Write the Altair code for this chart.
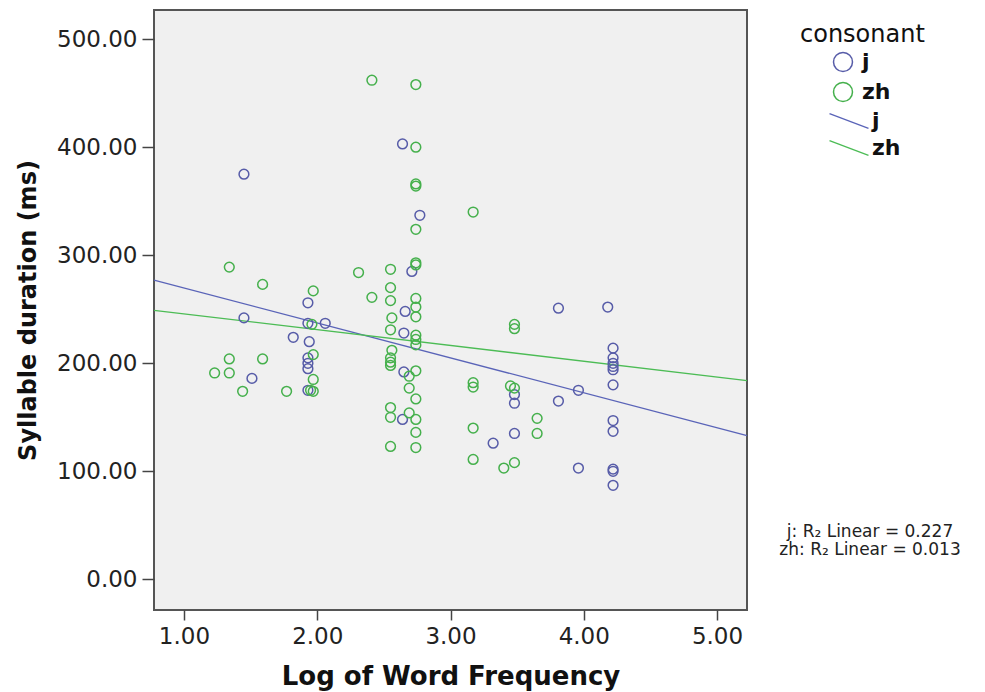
import altair as alt
import pandas as pd

# ---- data ----
j_x = [1.45, 1.45, 1.51, 1.82, 1.93, 1.93, 1.94, 1.93, 1.93, 1.93, 1.93, 2.06,
       2.64, 2.77, 2.71, 2.66, 2.65, 2.65, 2.64, 3.32, 3.48, 3.48, 3.48, 3.81,
       3.81, 3.96, 3.96, 4.18, 4.22, 4.22, 4.22, 4.22, 4.22, 4.22, 4.22, 4.22,
       4.22, 4.22, 4.22]
j_y = [375, 242, 186, 224, 256, 237, 220, 205, 200, 195, 175, 237,
       403, 337, 285, 248, 228, 192, 148, 126, 171, 163, 135, 251,
       165, 175, 103, 252, 214, 205, 200, 197, 194, 180, 147, 137,
       102, 100, 87]

zh_x = [1.23, 1.34, 1.34, 1.34, 1.44, 1.59, 1.59, 1.77, 1.97, 1.96, 1.97, 1.97,
        1.97, 1.95, 2.31, 2.41, 2.41, 2.55, 2.55, 2.55, 2.56, 2.55, 2.56, 2.55,
        2.55, 2.55, 2.55, 2.55, 2.55, 2.69, 2.69, 2.69, 2.74, 2.74, 2.74, 2.74,
        2.74, 2.74, 2.74, 2.74, 2.74, 2.74, 2.74, 2.74, 2.74, 2.74, 2.74, 2.74,
        2.74, 2.74, 3.17, 3.17, 3.17, 3.17, 3.17, 3.45, 3.48, 3.48, 3.48, 3.40,
        3.48, 3.65, 3.65]
zh_y = [191, 289, 204, 191, 174, 273, 204, 174, 267, 236, 208, 185,
        174, 175, 284, 462, 261, 287, 270, 258, 242, 231, 212, 205,
        201, 198, 159, 150, 123, 188, 177, 154, 458, 400, 366, 364,
        324, 293, 291, 260, 252, 243, 226, 222, 217, 193, 167, 148,
        136, 122, 340, 182, 178, 140, 111, 179, 177, 236, 232, 103,
        108, 149, 135]

fit_x = [0.775, 5.225]
j_fit = [277, 133]
zh_fit = [249, 184]

groups = ["j", "zh"]
line_groups = ["j line", "zh line"]
point_colors = ["#575ca8", "#45b04c"]
line_colors = ["#5a64b8", "#4cbc55"]
x_ticks = [1, 2, 3, 4, 5]
y_ticks = [0, 100, 200, 300, 400, 500]
r2_text = ["j: R₂ Linear = 0.227", "zh: R₂ Linear = 0.013"]

FONT = "DejaVu Sans"

pts = pd.DataFrame({
    "x": j_x + zh_x,
    "y": j_y + zh_y,
    "consonant": ["j"] * len(j_x) + ["zh"] * len(zh_x),
})
fit = pd.DataFrame({
    "x": fit_x + fit_x,
    "y": j_fit + zh_fit,
    "line": [line_groups[0]] * 2 + [line_groups[1]] * 2,
})

xscale = alt.Scale(domain=[0.775, 5.225], nice=False, zero=False)
yscale = alt.Scale(domain=[-28.4, 527], nice=False, zero=False)

xaxis = alt.Axis(values=x_ticks, format=".2f", title="Log of Word Frequency",
                 grid=False, domain=False, tickSize=10, tickColor="#444",
                 tickWidth=1.5, labelFontSize=23, labelColor="#222",
                 labelPadding=5, labelFont=FONT, titleFont=FONT,
                 titleFontSize=26, titleFontWeight="bold", titleColor="#111",
                 titlePadding=15)
yaxis = alt.Axis(values=y_ticks, format=".2f", title="Syllable duration (ms)",
                 grid=False, domain=False, tickSize=12, tickColor="#444",
                 tickWidth=1.5, labelFontSize=23, labelColor="#222",
                 labelPadding=5, labelFont=FONT, titleFont=FONT,
                 titleFontSize=24, titleFontWeight="bold", titleColor="#111",
                 titlePadding=16)

points = alt.Chart(pts).mark_point(
    shape="circle", filled=False, size=95, strokeWidth=1.5, opacity=1
).encode(
    x=alt.X("x:Q", scale=xscale, axis=xaxis),
    y=alt.Y("y:Q", scale=yscale, axis=yaxis),
    color=alt.Color(
        "consonant:N",
        scale=alt.Scale(domain=groups, range=point_colors),
        legend=alt.Legend(title=None, orient="none", legendX=678, legendY=41,
                          symbolType="circle", symbolSize=360,
                          symbolStrokeWidth=1.5, labelFontSize=22,
                          labelFont=FONT, labelFontWeight="bold",
                          labelColor="#111", labelOffset=8, rowPadding=4),
    ),
)

lines = alt.Chart(fit).mark_line(strokeWidth=1.3).encode(
    x=alt.X("x:Q", scale=xscale),
    y=alt.Y("y:Q", scale=yscale),
    stroke=alt.Stroke(
        "line:N",
        scale=alt.Scale(domain=line_groups, range=line_colors),
        legend=alt.Legend(title=None, orient="none", legendX=684, legendY=100,
                          symbolType="M-2,-0.76L2,0.76", symbolSize=380,
                          symbolStrokeWidth=1.3, labelFontSize=22,
                          labelFont=FONT, labelFontWeight="bold",
                          labelColor="#111", labelOffset=12, rowPadding=5,
                          labelExpr="split(datum.label, ' ')[0]"),
    ),
)

one = pd.DataFrame({"a": [0]})
legend_title = alt.Chart(one).mark_text(
    text="consonant", align="left", baseline="alphabetic", fontSize=24,
    font=FONT, color="#111"
).encode(x=alt.value(646), y=alt.value(32))

r2 = alt.Chart(one).mark_text(
    text=r2_text, align="center", baseline="alphabetic", fontSize=17,
    lineHeight=18, font=FONT, color="#222"
).encode(x=alt.value(716), y=alt.value(527))

chart = alt.layer(lines, points, legend_title, r2).properties(
    width=593, height=600,
    autosize=alt.AutoSizeParams(type="none"),
    padding={"left": 146, "top": 2, "right": 230, "bottom": 82},
    background="white",
).configure_view(
    stroke="#555", strokeWidth=2, fill="#f0f0f0"
)

chart.save("out.html", embed_options={"renderer": "svg", "actions": False})
